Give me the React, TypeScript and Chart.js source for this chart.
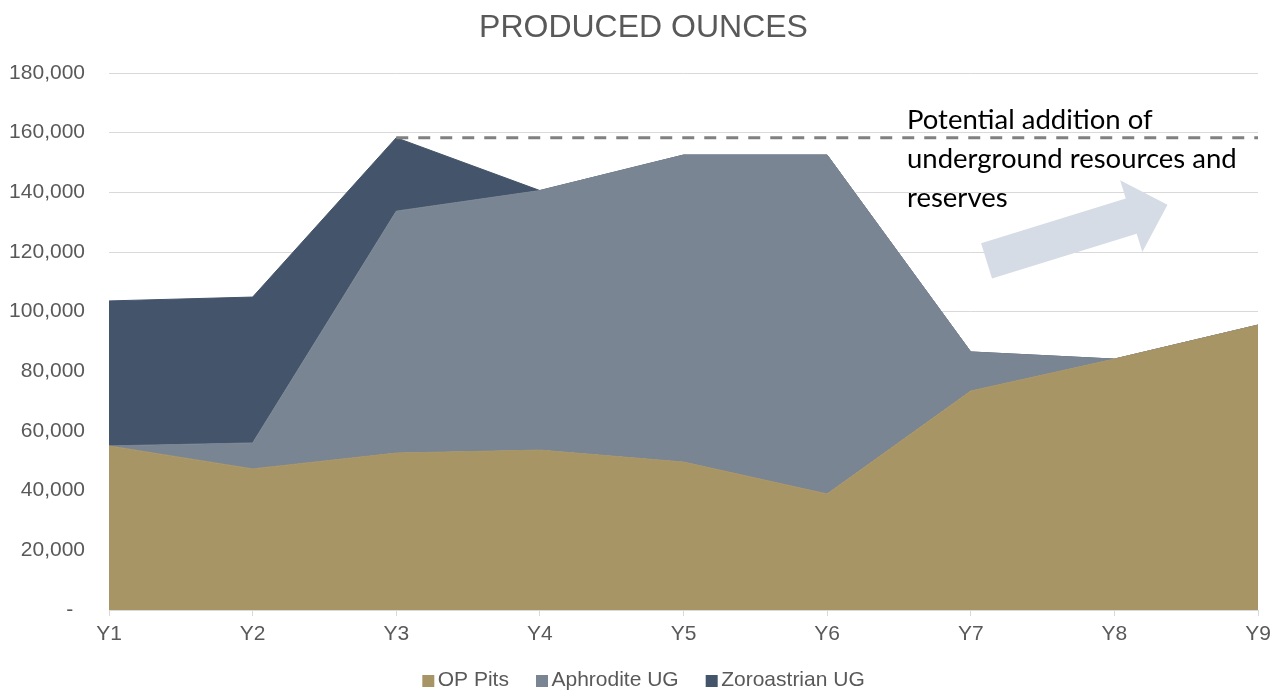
import { useEffect, useRef } from 'react';
import { Chart, registerables } from 'chart.js';

Chart.register(...registerables);

// ---------------- data ----------------
const categories = ['Y1', 'Y2', 'Y3', 'Y4', 'Y5', 'Y6', 'Y7', 'Y8', 'Y9'];
const opPits = [55000, 47300, 52600, 53600, 49600, 38900, 73400, 84100, 95500];
const aphroditeUG = [0, 8700, 81100, 87000, 102900, 113600, 13100, 0, 0];
const zoroastrianUG = [48600, 48900, 24600, 0, 0, 0, 0, 0, 0];
const potentialLevel = [null, null, 158300, 158300, 158300, 158300, 158300, 158300, 158300];
const yMin = 0;
const yMax = 180000;
const yStep = 20000;
const annotationLines = ['Potential addition of', 'underground resources and', 'reserves'];
// annotation anchors in data space: [category index, value]
const annotationAnchor = [5.556, 161200];
const arrowFrom = [6.11, 117000];
const arrowTo = [7.37, 135800];

const COLORS = {
  op: '#A89566',
  aph: '#7A8593',
  zor: '#44546A',
  dash: '#808080',
  grid: '#D9D9D9',
  text: '#595959',
  arrow: '#D6DCE5',
};

const FONT = "'Liberation Sans', Arial, sans-serif";

function legendSwatch(color: string): HTMLCanvasElement {
  const c = document.createElement('canvas');
  c.width = 25;
  c.height = 12;
  const g = c.getContext('2d')!;
  g.fillStyle = color;
  g.fillRect(10, 0, 12, 12);
  return c;
}

const annotationPlugin = {
  id: 'potentialAnnotation',
  afterDatasetsDraw(chart: any) {
    const { ctx, scales } = chart;
    const xs = scales.x;
    const ys = scales.y;
    // arrow
    const x0 = xs.getPixelForValue(arrowFrom[0]);
    const y0 = ys.getPixelForValue(arrowFrom[1]);
    const x1 = xs.getPixelForValue(arrowTo[0]);
    const y1 = ys.getPixelForValue(arrowTo[1]);
    const dx = x1 - x0;
    const dy = y1 - y0;
    const len = Math.hypot(dx, dy);
    const ux = dx / len;
    const uy = dy / len;
    const px = -uy;
    const py = ux;
    const shaftHalf = 18.5;
    const headHalf = 37.5;
    const headLen = 38;
    const bx = x1 - ux * headLen;
    const by = y1 - uy * headLen;
    ctx.save();
    ctx.fillStyle = COLORS.arrow;
    ctx.beginPath();
    ctx.moveTo(x0 + px * shaftHalf, y0 + py * shaftHalf);
    ctx.lineTo(bx + px * shaftHalf, by + py * shaftHalf);
    ctx.lineTo(bx + px * headHalf, by + py * headHalf);
    ctx.lineTo(x1, y1);
    ctx.lineTo(bx - px * headHalf, by - py * headHalf);
    ctx.lineTo(bx - px * shaftHalf, by - py * shaftHalf);
    ctx.lineTo(x0 - px * shaftHalf, y0 - py * shaftHalf);
    ctx.closePath();
    ctx.fill();
    // text
    const tx = xs.getPixelForValue(annotationAnchor[0]);
    const ty = ys.getPixelForValue(annotationAnchor[1]);
    ctx.fillStyle = '#000000';
    ctx.font = "27.5px Lato, 'Noto Sans', sans-serif";
    ctx.textAlign = 'left';
    ctx.textBaseline = 'alphabetic';
    annotationLines.forEach((line, i) => {
      ctx.fillText(line, tx, ty + i * 39);
    });
    ctx.restore();
  },
};

export default function App() {
  const ref = useRef<HTMLCanvasElement | null>(null);

  useEffect(() => {
    if (!ref.current) return;
    Chart.defaults.font.family = FONT;
    const swatches = [legendSwatch(COLORS.op), legendSwatch(COLORS.aph), legendSwatch(COLORS.zor)];
    const chart = new Chart(ref.current, {
      type: 'line',
      data: {
        labels: categories,
        datasets: [
          {
            label: 'OP Pits',
            data: opPits,
            backgroundColor: COLORS.op,
            borderColor: COLORS.op,
            borderWidth: 1,
            fill: 'origin',
            pointRadius: 0,
            tension: 0,
            yAxisID: 'y',
          },
          {
            label: 'Aphrodite UG',
            data: aphroditeUG,
            backgroundColor: COLORS.aph,
            borderColor: COLORS.aph,
            borderWidth: 1,
            fill: '-1',
            pointRadius: 0,
            tension: 0,
            yAxisID: 'y',
          },
          {
            label: 'Zoroastrian UG',
            data: zoroastrianUG,
            backgroundColor: COLORS.zor,
            borderColor: COLORS.zor,
            borderWidth: 1,
            fill: '-1',
            pointRadius: 0,
            tension: 0,
            yAxisID: 'y',
          },
          {
            label: 'Potential',
            data: potentialLevel,
            borderColor: COLORS.dash,
            borderWidth: 3,
            borderDash: [12, 10],
            fill: false,
            pointRadius: 0,
            tension: 0,
            yAxisID: 'y2',
            order: -1,
          },
        ] as any,
      },
      options: {
        responsive: false,
        animation: false,
        devicePixelRatio: 1,
        layout: { padding: { left: 0, right: 0, top: 0, bottom: 0 } },
        plugins: {
          tooltip: { enabled: false },
          title: {
            display: true,
            text: 'PRODUCED OUNCES',
            color: COLORS.text,
            font: { size: 32, weight: 'normal', family: FONT, lineHeight: 1.2 },
            padding: { top: 9, bottom: 25.6 },
          },
          legend: {
            position: 'bottom',
            labels: {
              color: COLORS.text,
              font: { size: 21, family: FONT },
              usePointStyle: true,
              pointStyleWidth: 5,
              padding: 27,
              filter: (item: any) => item.datasetIndex !== 3,
              generateLabels: (ch: any) => {
                const base = Chart.defaults.plugins.legend.labels.generateLabels(ch);
                return base.map((it: any) => ({
                  ...it,
                  pointStyle: swatches[it.datasetIndex] ?? it.pointStyle,
                }));
              },
            },
          },
        },
        scales: {
          x: {
            type: 'category',
            offset: false,
            grid: {
              drawOnChartArea: false,
              drawTicks: true,
              tickLength: 6,
              color: COLORS.grid,
            },
            border: { display: true, color: COLORS.grid, width: 1 },
            ticks: {
              color: COLORS.text,
              font: { size: 21, family: FONT },
              padding: 6,
              maxRotation: 0,
              autoSkip: false,
            },
            afterFit: (scale: any) => {
              scale.height = 33;
            },
          },
          y: {
            stacked: true,
            min: yMin,
            max: yMax,
            grid: { color: COLORS.grid, drawTicks: false, lineWidth: 1 },
            border: { display: false },
            ticks: {
              stepSize: yStep,
              color: COLORS.text,
              font: { size: 21, family: FONT },
              padding: 24,
              callback: (v: any) => (Number(v) === 0 ? '-  ' : Number(v).toLocaleString('en-US')),
            },
            afterFit: (scale: any) => {
              scale.width = 109;
            },
          },
          y2: {
            display: true,
            position: 'right',
            stacked: false,
            min: yMin,
            max: yMax,
            grid: { display: false, drawOnChartArea: false, drawTicks: false },
            border: { display: false },
            ticks: { display: false },
            afterFit: (scale: any) => {
              scale.width = 29;
            },
          },
        },
      } as any,
      plugins: [annotationPlugin],
    });
    return () => chart.destroy();
  }, []);

  return (
    <div style={{ position: 'fixed', left: 0, top: 0, width: 1287, height: 701, background: '#ffffff' }}>
      <canvas ref={ref} width={1287} height={701} style={{ display: 'block' }} />
    </div>
  );
}
